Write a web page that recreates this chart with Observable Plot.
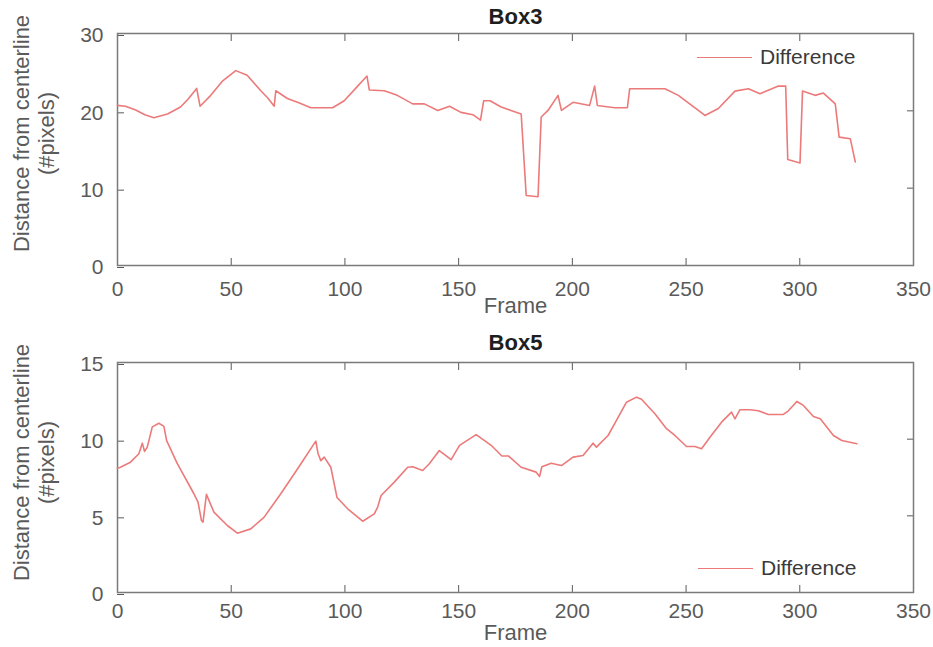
<!DOCTYPE html>
<html><head><meta charset="utf-8">
<script src="https://cdn.jsdelivr.net/npm/d3@7"></script>
<script src="https://cdn.jsdelivr.net/npm/@observablehq/plot@0.6"></script>
<style>
html,body{margin:0;padding:0;background:#fff;}
#wrap{position:relative;width:933px;height:647px;font-family:"Liberation Sans",Arial,Helvetica,sans-serif;overflow:hidden;}
svg{display:block;}
.legend{position:absolute;display:flex;align-items:center;font-size:21px;color:#3a3a3a;height:24px;}
.legend .sw{width:55px;height:0;border-top:1.6px solid #ec7a7a;margin-right:8px;}
</style></head><body><div id="wrap"></div>
<script>
// ---- data ----
const xTicks = [0, 50, 100, 150, 200, 250, 300, 350];
const box3Ticks = [0, 10, 20, 30];
const box5Ticks = [0, 5, 10, 15];
const seriesName = "Difference";
const yLabel = "Distance from centerline\n(#pixels)";
const xLabel = "Frame";

const box3Frames = [0,3.5,8,12,16,22,27.7,31,34.8,36.3,41,46,52,57,63,66,68.9,69.6,74.7,80,85,94.6,99.7,105,109.7,110.7,117.3,123,129.8,134.9,140.8,146,151,156.3,159.6,161,163.8,168.7,173,177.5,179.7,184.9,186.3,189.3,193.7,195.2,200.3,207.6,209.8,211,218.6,224.2,225.2,240.7,246.6,258.3,264.2,271.5,277.4,282.5,290.6,293.8,294.7,300.1,301.2,306.7,310.4,315.6,317.3,322.2,324.4];
const box3Values = [20.7,20.6,20.1,19.5,19.1,19.6,20.5,21.5,22.9,20.6,22.0,23.8,25.2,24.6,22.6,21.7,20.6,22.6,21.6,21.0,20.4,20.4,21.3,23.0,24.5,22.7,22.6,22.0,20.9,20.9,20.05,20.6,19.8,19.5,18.8,21.3,21.3,20.5,20.05,19.6,9.05,8.9,19.2,20.05,22.0,20.05,21.1,20.7,23.2,20.7,20.4,20.4,22.85,22.85,22.0,19.4,20.3,22.55,22.85,22.2,23.2,23.2,13.7,13.25,22.55,22.0,22.3,20.9,16.6,16.4,13.4];

const box5Frames = [0,1.3,5.7,9.4,10.9,11.9,13.1,15.3,18.2,20.4,21.6,26.3,33.6,35.4,36.9,37.6,39.1,42.4,48.3,52.7,58.6,64.4,71.8,79.2,87.2,88.2,89.4,90.9,93.8,96.5,101.2,107.8,112.9,114.4,115.9,121.7,127.6,129.8,134.2,137.1,141.5,146.7,150.4,157.7,164.3,169,172,177.5,184.1,185.6,186.6,190.7,195.2,200.3,204.7,209.1,210.6,215.7,219.4,223.8,228.2,230.4,236.3,241.4,245.1,250.2,253.9,256.8,260.5,265.6,270,271.5,273.7,278.1,281.8,286.2,292.8,295,298.7,301.6,306,309,314.8,318.5,325.1];
const box5Values = [8.1,8.17,8.5,9.05,9.74,9.2,9.48,10.8,11.04,10.83,9.9,8.4,6.44,5.9,4.7,4.59,6.4,5.24,4.37,3.87,4.15,4.9,6.44,8.07,9.87,9.05,8.6,8.83,8.17,6.2,5.46,4.65,5.13,5.57,6.33,7.2,8.17,8.2,7.96,8.4,9.26,8.66,9.6,10.3,9.6,8.9,8.9,8.17,7.85,7.57,8.2,8.43,8.28,8.83,8.94,9.74,9.48,10.24,11.22,12.41,12.74,12.6,11.66,10.68,10.24,9.52,9.52,9.37,10.13,11.11,11.76,11.33,11.92,11.92,11.85,11.61,11.61,11.85,12.46,12.2,11.48,11.33,10.24,9.91,9.7];

const FONT = '"Liberation Sans", Arial, Helvetica, sans-serif';
const LINE = "#ec7a7a";
const AX = "#5a5a5a";

function panel(o) {
  const data = o.frames.map((f, i) => ({frame: f, value: o.values[i]}));
  return Plot.plot({
    width: 933, height: o.height,
    marginLeft: 117, marginRight: 20, marginTop: o.marginTop, marginBottom: o.marginBottom,
    style: {fontFamily: FONT, background: "white", overflow: "visible"},
    x: {domain: [0, 350]},
    y: {domain: o.yDomain},
    marks: [
      Plot.axisX({anchor: "bottom", ticks: xTicks, tickSize: -7, tickPadding: o.tickPadX, fontSize: 21, color: AX, label: null}),
      Plot.axisX({anchor: "top", ticks: xTicks, tickSize: -7, tickFormat: () => "", color: AX, label: null}),
      Plot.axisY({anchor: "left", ticks: o.yTicks, tickSize: -7, tickPadding: 21, fontSize: 21, color: AX, label: null, dy: 2}),
      Plot.axisY({anchor: "right", ticks: o.yTicks, tickSize: -7, tickFormat: () => "", color: AX, label: null}),
      Plot.frame({stroke: "#7a7a7a", strokeWidth: 1.5}),
      Plot.line(data, {x: "frame", y: "value", stroke: LINE, strokeWidth: 1.6}),
      Plot.text([o.title], {text: d => d, frameAnchor: "top", lineAnchor: "middle", textAnchor: "middle", dy: o.titleDy, fontSize: 22, fontWeight: "bold", fill: "#1e1e1e"}),
      Plot.text([xLabel], {text: d => d, frameAnchor: "bottom", lineAnchor: "middle", textAnchor: "middle", dy: o.xLabelDy, fontSize: 22, fill: AX}),
      Plot.text([yLabel], {text: d => d, frameAnchor: "left", textAnchor: "middle", lineAnchor: "middle", rotate: -90, dx: -84, dy: o.yLabelDy, fontSize: 22, lineHeight: 1.14, fill: AX})
    ]
  });
}

const wrap = document.getElementById("wrap");
wrap.appendChild(panel({
  frames: box3Frames, values: box3Values, title: "Box3", yDomain: [0, 30], yTicks: box3Ticks,
  height: 323, marginTop: 33, marginBottom: 58, tickPadX: 23, titleDy: -17, xLabelDy: 40, yLabelDy: -16
}));
wrap.appendChild(panel({
  frames: box5Frames, values: box5Values, title: "Box5", yDomain: [0, 15], yTicks: box5Ticks,
  height: 324, marginTop: 39, marginBottom: 55, tickPadX: 18, titleDy: -20, xLabelDy: 40, yLabelDy: -15
}));

function legend(left, top) {
  const d = document.createElement("div");
  d.className = "legend";
  d.style.left = left + "px";
  d.style.top = (top - 12) + "px";
  const sw = document.createElement("span"); sw.className = "sw";
  const t = document.createElement("span"); t.textContent = seriesName;
  d.appendChild(sw); d.appendChild(t);
  wrap.appendChild(d);
}
legend(697, 57);
legend(698, 568);
</script></body></html>
